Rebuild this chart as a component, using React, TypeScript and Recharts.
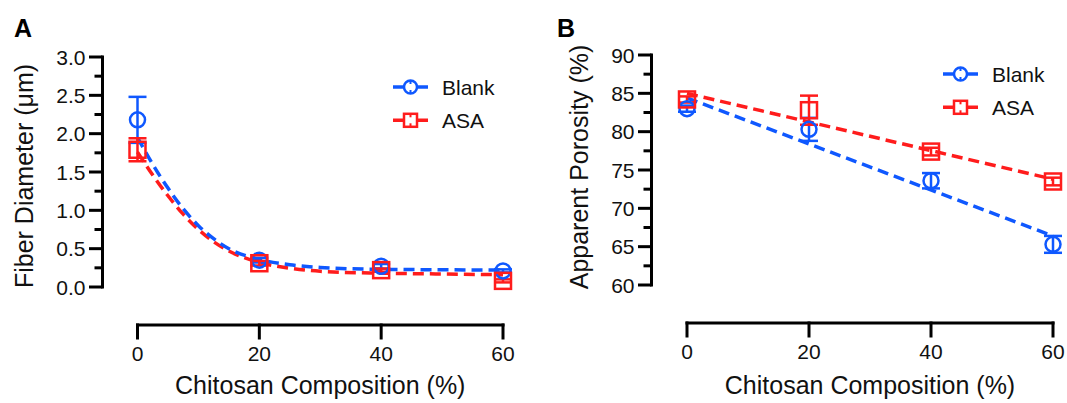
import React from "react";
import {
  ComposedChart, Line, Scatter, XAxis, YAxis, ErrorBar,
  ReferenceLine, Legend, Label,
} from "recharts";

const BLUE = "#0f58ff";
const RED = "#ff1c1c";
const INK = "#111111";
const FONT = "'Liberation Sans', Arial, Helvetica, sans-serif";

// chitosan composition (%)
const composition = [0, 20, 40, 60];
const xTicks = [0, 20, 40, 60];

// panel A: fiber diameter (um)
const diameterBlank = [2.18, 0.35, 0.27, 0.21];
const diameterBlankErr = [0.3, 0.03, 0.03, 0.02];
const diameterAsa = [1.79, 0.31, 0.22, 0.08];
const diameterAsaErr = [0.15, 0.03, 0.02, 0.02];

// one-phase decay fits
const decayX = [0, 2.5, 5, 7.5, 10, 12.5, 15, 20, 25, 30, 40, 50, 60];
const diameterBlankFit = [1.95, 1.6, 1.29, 1.02, 0.8, 0.63, 0.5, 0.36, 0.29, 0.255, 0.23, 0.225, 0.22];
const diameterAsaFit = [1.76, 1.46, 1.19, 0.95, 0.75, 0.59, 0.47, 0.32, 0.245, 0.205, 0.18, 0.17, 0.16];

const diameterTicks = [0, 0.25, 0.5, 0.75, 1, 1.25, 1.5, 1.75, 2, 2.25, 2.5, 2.75, 3];
const diameterMajor = [0, 0.5, 1, 1.5, 2, 2.5, 3];

// panel B: apparent porosity (%)
const porosityBlank = [83.0, 80.3, 73.6, 65.3];
const porosityBlankErr = [0.4, 1.5, 1.0, 1.1];
const porosityAsa = [84.2, 82.8, 77.4, 73.5];
const porosityAsaErr = [0.4, 1.9, 0.5, 0.5];

// linear regression lines
const lineX = [0, 60];
const porosityBlankFit = [84.4, 66.4];
const porosityAsaFit = [85.0, 73.8];

const porosityTicks = [60, 62.5, 65, 67.5, 70, 72.5, 75, 77.5, 80, 82.5, 85, 87.5, 90];
const porosityMajor = [60, 65, 70, 75, 80, 85, 90];

type Pt = { x: number; y: number; err?: number };

const zip = (xs: number[], ys: number[], es?: number[]): Pt[] =>
  xs.map((x, i) => ({ x, y: ys[i], err: es ? es[i] : undefined }));

const circleShape = (color: string, r: number) => (p: any) =>
  <circle cx={p.cx} cy={p.cy} r={r} fill="none" stroke={color} strokeWidth={2.5} />;

const squareShape = (color: string, s: number) => (p: any) =>
  <rect x={p.cx - s / 2} y={p.cy - s / 2} width={s} height={s} fill="none" stroke={color} strokeWidth={2.5} />;

function LegendBox() {
  const items = [
    { name: "Blank", color: BLUE, kind: "circle" },
    { name: "ASA", color: RED, kind: "square" },
  ];
  return (
    <svg width={150} height={64} style={{ overflow: "visible", display: "block" }}>
      {items.map((it, i) => {
        const cy = 12 + i * 33.3;
        return (
          <g key={it.name}>
            <line x1={0} x2={35} y1={cy} y2={cy} stroke={it.color} strokeWidth={3.5} />
            {it.kind === "circle" ? (
              <circle cx={17.5} cy={cy} r={6.5} fill="#fff" stroke={it.color} strokeWidth={2.5} />
            ) : (
              <rect x={11} y={cy - 6.5} width={13} height={13} fill="#fff" stroke={it.color} strokeWidth={2.5} />
            )}
            <line x1={17.5} x2={17.5} y1={cy - 6} y2={cy - 3} stroke={it.color} strokeWidth={2} />
            <line x1={17.5} x2={17.5} y1={cy + 3} y2={cy + 6} stroke={it.color} strokeWidth={2} />
            <text x={49} y={cy + 7.5} fontSize={21} fontFamily={FONT} fill={INK}>{it.name}</text>
          </g>
        );
      })}
    </svg>
  );
}

interface PanelProps {
  letter: string;
  letterX: number;
  yTitle: string;
  titleX: number;
  titleY: number;
  yMin: number;
  yMax: number;
  yTicks: number[];
  yMajor: number[];
  yDigits: number;
  left: number;
  width: number;
  axisX: number;
  x0: number;
  x60: number;
  yTop: number;
  yBottom: number;
  xAxisY: number;
  legendLeft: number;
  legendTop: number;
  blank: Pt[];
  asa: Pt[];
  blankFit: Pt[];
  asaFit: Pt[];
  curve: "monotone" | "linear";
}

const H = 403;
const X_AXIS_H = 50;

function Panel(p: PanelProps) {
  const xMin = -((p.x0 - p.axisX) / (p.x60 - p.x0)) * 60;
  const yLow = p.yMin - ((p.xAxisY - p.yBottom) / (p.yBottom - p.yTop)) * (p.yMax - p.yMin);
  const xTitleX = (p.x0 + p.x60) / 2;

  const YTick = (t: any) => {
    const v = t.payload.value;
    const major = p.yMajor.includes(v);
    return (
      <g>
        <line x1={t.x} x2={t.x - (major ? 13.5 : 8)} y1={t.y} y2={t.y} stroke="#000" strokeWidth={3} />
        {major && (
          <text x={t.x - 17} y={t.y + 7.5} textAnchor="end" fontSize={21} fontFamily={FONT} fill={INK}>
            {v.toFixed(p.yDigits)}
          </text>
        )}
      </g>
    );
  };

  const XTick = (t: any) => (
    <g>
      <line x1={t.x} x2={t.x} y1={t.y} y2={t.y + 13} stroke="#000" strokeWidth={3} strokeLinecap="square" />
      <text x={t.x} y={t.y + 36} textAnchor="middle" fontSize={21} fontFamily={FONT} fill={INK}>
        {t.payload.value}
      </text>
    </g>
  );

  return (
    <div style={{ position: "absolute", left: p.left, top: 0, width: p.width, height: H }}>
      <ComposedChart
        width={p.width}
        height={H}
        margin={{ top: p.yTop, right: p.width - p.x60, bottom: H - p.xAxisY - X_AXIS_H, left: 0 }}
      >
        <XAxis
          type="number"
          dataKey="x"
          domain={[xMin, 60]}
          ticks={xTicks}
          interval={0}
          height={X_AXIS_H}
          axisLine={false}
          tickLine={false}
          tickSize={0}
          tickMargin={0}
          tick={XTick}
        >
          <Label
            content={() => (
              <text x={xTitleX} y={394} textAnchor="middle" fontSize={25} fontFamily={FONT} fill={INK}>
                Chitosan Composition (%)
              </text>
            )}
          />
        </XAxis>
        <YAxis
          type="number"
          domain={[yLow, p.yMax]}
          ticks={p.yTicks}
          interval={0}
          width={p.axisX}
          axisLine={false}
          tickLine={false}
          tickSize={0}
          tickMargin={0}
          tick={YTick}
        >
          <Label
            content={() => (
              <g>
                <text
                  transform={`translate(${p.titleX},${p.titleY}) rotate(-90)`}
                  textAnchor="middle"
                  dominantBaseline="central"
                  fontSize={25}
                  fontFamily={FONT}
                  fill={INK}
                >
                  {p.yTitle}
                </text>
                <text x={p.letterX} y={37} fontSize={25} fontWeight="bold" fontFamily={FONT} fill="#000">
                  {p.letter}
                </text>
              </g>
            )}
          />
        </YAxis>

        <ReferenceLine
          segment={[{ x: xMin, y: p.yMin }, { x: xMin, y: p.yMax }]}
          stroke="#000" strokeWidth={3} strokeLinecap="square" ifOverflow="visible"
        />
        <ReferenceLine
          segment={[{ x: 0, y: yLow }, { x: 60, y: yLow }]}
          stroke="#000" strokeWidth={3} strokeLinecap="square" ifOverflow="visible"
        />

        <Line data={p.asaFit} dataKey="y" type={p.curve} stroke={RED} strokeWidth={3.5}
          strokeDasharray="11 6" dot={false} activeDot={false} legendType="none" isAnimationActive={false} />
        <Line data={p.blankFit} dataKey="y" type={p.curve} stroke={BLUE} strokeWidth={3.5}
          strokeDasharray="11 6" dot={false} activeDot={false} legendType="none" isAnimationActive={false} />

        <Scatter data={p.blank} dataKey="y" shape={circleShape(BLUE, 7.5)} isAnimationActive={false}>
          <ErrorBar dataKey="err" direction="y" width={9} stroke={BLUE} strokeWidth={2.5} />
        </Scatter>
        <Scatter data={p.asa} dataKey="y" shape={squareShape(RED, 16)} isAnimationActive={false}>
          <ErrorBar dataKey="err" direction="y" width={9} stroke={RED} strokeWidth={2.5} />
        </Scatter>

        <Legend
          layout="vertical"
          align="center"
          verticalAlign="middle"
          content={() => <LegendBox />}
          wrapperStyle={{ position: "absolute", left: p.legendLeft, top: p.legendTop, width: 150, height: 64 }}
        />
      </ComposedChart>
    </div>
  );
}

export default function App() {
  return (
    <div
      style={{
        position: "absolute", left: 0, top: 0, width: 1067, height: H,
        background: "#fff", fontFamily: FONT, overflow: "hidden",
      }}
    >
      <Panel
        letter="A" letterX={14}
        yTitle="Fiber Diameter (μm)" titleX={24} titleY={176}
        yMin={0} yMax={3} yTicks={diameterTicks} yMajor={diameterMajor} yDigits={1}
        left={0} width={540}
        axisX={102.5} x0={137.5} x60={503} yTop={57} yBottom={287} xAxisY={325}
        legendLeft={393} legendTop={74.7}
        blank={zip(composition, diameterBlank, diameterBlankErr)}
        asa={zip(composition, diameterAsa, diameterAsaErr)}
        blankFit={zip(decayX, diameterBlankFit)}
        asaFit={zip(decayX, diameterAsaFit)}
        curve="monotone"
      />
      <Panel
        letter="B" letterX={17}
        yTitle="Apparent Porosity (%)" titleX={39} titleY={167}
        yMin={60} yMax={90} yTicks={porosityTicks} yMajor={porosityMajor} yDigits={0}
        left={540} width={527}
        axisX={111.5} x0={147} x60={513} yTop={55} yBottom={285} xAxisY={323}
        legendLeft={403} legendTop={62}
        blank={zip(composition, porosityBlank, porosityBlankErr)}
        asa={zip(composition, porosityAsa, porosityAsaErr)}
        blankFit={zip(lineX, porosityBlankFit)}
        asaFit={zip(lineX, porosityAsaFit)}
        curve="linear"
      />
    </div>
  );
}
